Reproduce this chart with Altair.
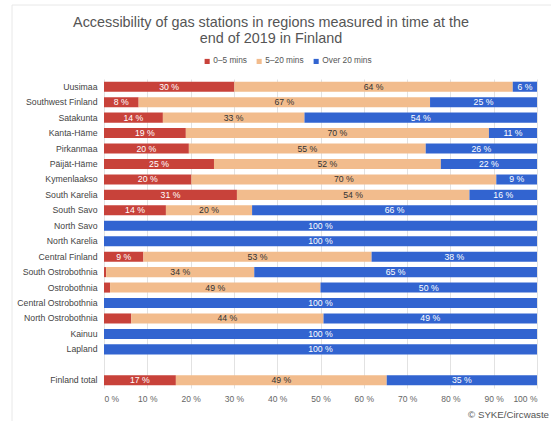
import altair as alt
import pandas as pd

# Share of the population by driving time to the nearest gas station (%)
regions = [
    "Uusimaa", "Southwest Finland", "Satakunta", "Kanta-Häme", "Pirkanmaa",
    "Päijät-Häme", "Kymenlaakso", "South Karelia", "South Savo", "North Savo",
    "North Karelia", "Central Finland", "South Ostrobothnia", "Ostrobothnia",
    "Central Ostrobothnia", "North Ostrobothnia", "Kainuu", "Lapland",
    "Finland total",
]
bands = ["0–5 mins", "5–20 mins", "Over 20 mins"]
short = [30.1, 8.0, 13.6, 18.9, 19.6, 25.4, 20.2, 30.7, 14.3, 0, 0, 9.1, 0.5, 1.4, 0, 6.3, 0, 0, 16.6]
mid = [64.3, 67.3, 32.7, 70.0, 54.7, 52.4, 70.4, 53.7, 19.9, 0, 0, 52.7, 34.2, 48.6, 0, 44.4, 0, 0, 48.7]
long = [5.6, 24.7, 53.7, 11.1, 25.7, 22.2, 9.4, 15.6, 65.8, 100, 100, 38.2, 65.3, 50.0, 100, 49.3, 100, 100, 34.7]
unlabelled = [("North Ostrobothnia", "0–5 mins")]

title_lines = ["Accessibility of gas stations in regions measured in time at the",
               "end of 2019 in Finland"]
source_note = "© SYKE/Circwaste"

band_colors = ["#C8423A", "#F2BC8D", "#3264D0"]
text_colors = ["white", "#333333", "white"]

# Blank row separating the regions from the national total
spacer = " "
y_order = regions[:-1] + [spacer] + regions[-1:]

rows = []
for i, region in enumerate(regions):
    start = 0.0
    for j, vals in enumerate([short, mid, long]):
        v = vals[i]
        if v > 0:
            rows.append({
                "region": region,
                "band": bands[j],
                "value": v,
                "start": start,
                "end": start + v,
                "mid": start + v / 2,
                "tcolor": text_colors[j],
                "show": v >= 5 and (region, bands[j]) not in unlabelled,
            })
        start += v
df = pd.DataFrame(rows)

font = "Liberation Sans"
y_enc = alt.Y(
    "region:N", sort=y_order, title=None,
    scale=alt.Scale(domain=y_order, paddingInner=0.35, paddingOuter=0.175),
    axis=alt.Axis(labelFontSize=8.7, labelColor="#444444", labelPadding=7,
                  ticks=False, domain=False, labelFont=font),
)
x_scale = alt.Scale(domain=[0, 100], nice=False)

base = alt.Chart(df)

bars = base.mark_bar().encode(
    x=alt.X("start:Q", scale=x_scale, title=None,
            axis=alt.Axis(values=list(range(0, 101, 10)), labelExpr="datum.value + ' %'",
                          labelFontSize=8.5, labelColor="#666666", labelPadding=6,
                          ticks=False, domain=False, grid=True, gridColor="#E2E2E2",
                          labelFont=font)),
    x2="end:Q",
    y=y_enc,
    color=alt.Color("band:N", scale=alt.Scale(domain=bands, range=band_colors),
                    legend=alt.Legend(title=None, orient="none", direction="horizontal",
                                      legendX=99, legendY=-22, symbolType="square",
                                      symbolSize=26, labelFontSize=8.3, labelColor="#555555",
                                      labelFont=font, columnPadding=8, labelOffset=2)),
    order=alt.Order("start:Q"),
)

labels = base.transform_filter("datum.show").transform_calculate(
    label="format(datum.value, '.0f') + ' %'"
).mark_text(fontSize=8.7, font=font).encode(
    x=alt.X("mid:Q", scale=x_scale),
    y=alt.Y("region:N", sort=y_order, scale=alt.Scale(domain=y_order)),
    text="label:N",
    color=alt.Color("tcolor:N", scale=None),
)

one = pd.DataFrame({"t": [source_note]})

title = alt.Chart(one).mark_text(
    text=title_lines, align="center", baseline="top", fontSize=14.4, lineHeight=16,
    color="#555555", font=font,
).encode(x=alt.value(167), y=alt.value(-63))

note = alt.Chart(one).mark_text(align="right", baseline="middle", fontSize=9.7,
                                color="#555555", font=font).encode(
    text="t:N", x=alt.value(445), y=alt.value(336),
)
frame_left = alt.Chart(one).mark_rule(color="#E8E8E8", strokeWidth=1).encode(
    x=alt.value(-92), y=alt.value(-74), y2=alt.value(360),
)
frame_top = alt.Chart(one).mark_rule(color="#E8E8E8", strokeWidth=1).encode(
    x=alt.value(-92), x2=alt.value(460), y=alt.value(-74),
)

chart = alt.layer(frame_left, frame_top, bars, labels, title, note).properties(
    width=433,
    height=309,
    padding={"left": 104, "top": 79, "right": 14, "bottom": 33},
    autosize=alt.AutoSizeParams(type="none"),
).configure_view(stroke=None)

chart.save("out.html", embed_options={"renderer": "svg", "actions": False})
